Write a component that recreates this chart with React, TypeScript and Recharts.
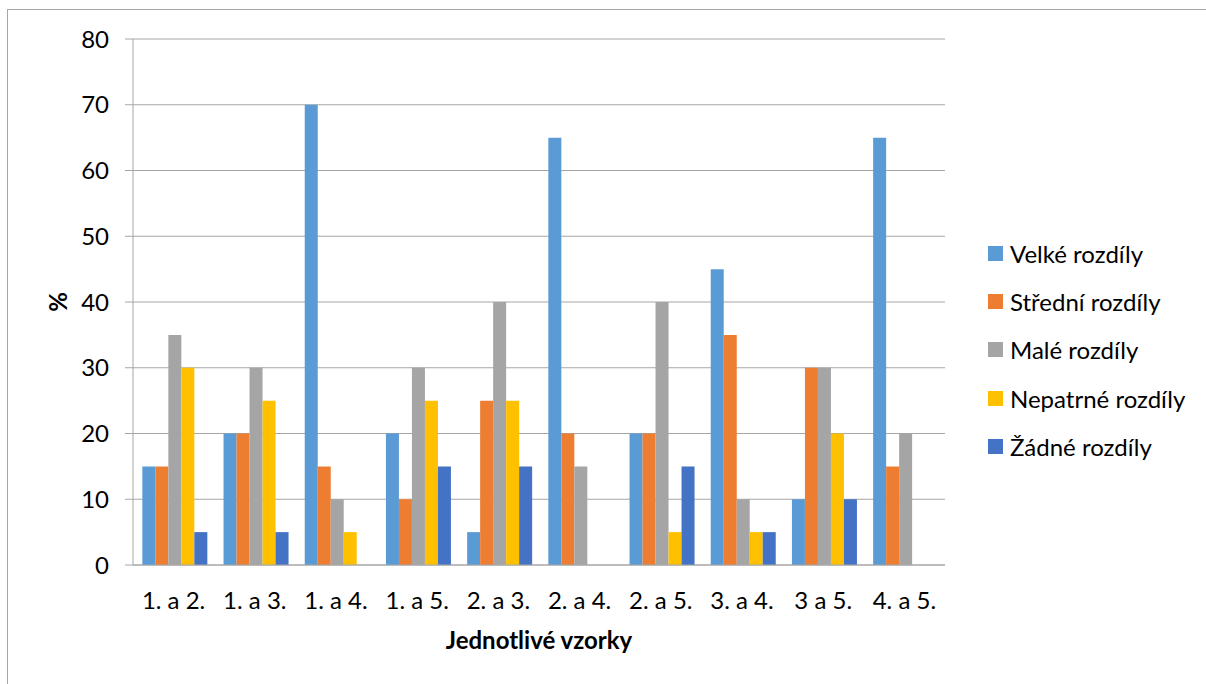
import React from 'react';
import { BarChart, Bar, XAxis, YAxis, CartesianGrid, Legend, Label } from 'recharts';

const pairs = ['1. a 2.', '1. a 3.', '1. a 4.', '1. a 5.', '2. a 3.', '2. a 4.', '2. a 5.', '3. a 4.', '3 a 5.', '4. a 5.'];
const velke = [15, 20, 70, 20, 5, 65, 20, 45, 10, 65];
const stredni = [15, 20, 15, 10, 25, 20, 20, 35, 30, 15];
const male = [35, 30, 10, 30, 40, 15, 40, 10, 30, 20];
const nepatrne = [30, 25, 5, 25, 25, 0, 5, 5, 20, 0];
const zadne = [5, 5, 0, 15, 15, 0, 15, 5, 10, 0];
const yTicks = [0, 10, 20, 30, 40, 50, 60, 70, 80];

const series = [
  { key: 'velke', name: 'Velké rozdíly', color: '#5B9BD5', values: velke },
  { key: 'stredni', name: 'Střední rozdíly', color: '#ED7D31', values: stredni },
  { key: 'male', name: 'Malé rozdíly', color: '#A5A5A5', values: male },
  { key: 'nepatrne', name: 'Nepatrné rozdíly', color: '#FFC000', values: nepatrne },
  { key: 'zadne', name: 'Žádné rozdíly', color: '#4472C4', values: zadne },
];

const data = pairs.map((p, i) => {
  const row: Record<string, string | number> = { pair: p };
  series.forEach((s) => {
    row[s.key] = s.values[i];
  });
  return row;
});

const FONT = 'Lato, "Open Sans", sans-serif';
const AXIS_GRAY = '#A6A6A6';

const LegendList = () => (
  <div style={{ fontFamily: FONT, fontSize: 24, color: '#000' }}>
    {series.map((s) => (
      <div key={s.key} style={{ display: 'flex', alignItems: 'center', height: 48.3 }}>
        <span style={{ display: 'inline-block', width: 15, height: 15, background: s.color, marginRight: 7 }} />
        <span style={{ whiteSpace: 'nowrap' }}>{s.name}</span>
      </div>
    ))}
  </div>
);

export default function App() {
  return (
    <div style={{ position: 'absolute', left: 0, top: 0, width: 1206, height: 684, overflow: 'hidden', background: '#fff' }}>
      <div
        style={{
          position: 'absolute',
          left: 7,
          top: 9,
          width: 1220,
          height: 720,
          border: `1.5px solid ${AXIS_GRAY}`,
          boxSizing: 'border-box',
        }}
      />
      <BarChart
        width={1206}
        height={684}
        data={data}
        margin={{ top: 39, right: 261, bottom: 19, left: 0 }}
        barGap={0}
        barCategoryGap="11.5%"
        style={{ position: 'absolute', left: 0, top: 0 }}
      >
        <CartesianGrid vertical={false} stroke={AXIS_GRAY} strokeWidth={1} />
        <XAxis
          dataKey="pair"
          height={100}
          tickSize={0}
          tickMargin={27}
          axisLine={{ stroke: AXIS_GRAY }}
          tick={{ fill: '#000', fontSize: 24, fontFamily: FONT }}
          interval={0}
        >
          <Label
            value="Jednotlivé vzorky"
            position="insideBottom"
            offset={16}
            style={{ fill: '#000', fontSize: 24, fontWeight: 700, fontFamily: FONT }}
          />
        </XAxis>
        <YAxis
          width={133}
          domain={[0, 80]}
          ticks={yTicks}
          tickSize={8}
          tickMargin={16}
          axisLine={{ stroke: AXIS_GRAY }}
          tickLine={{ stroke: AXIS_GRAY }}
          tick={{ fill: '#000', fontSize: 24, fontFamily: FONT }}
        >
          <Label
            value="%"
            angle={-90}
            position="insideLeft"
            offset={58}
            style={{ fill: '#000', fontSize: 24, fontWeight: 700, fontFamily: FONT, textAnchor: 'middle' }}
          />
        </YAxis>
        <Legend
          layout="vertical"
          align="center"
          verticalAlign="middle"
          content={<LegendList />}
          wrapperStyle={{ left: 988, top: 229, width: 218 }}
        />
        {series.map((s) => (
          <Bar key={s.key} dataKey={s.key} name={s.name} fill={s.color} isAnimationActive={false} />
        ))}
      </BarChart>
    </div>
  );
}
